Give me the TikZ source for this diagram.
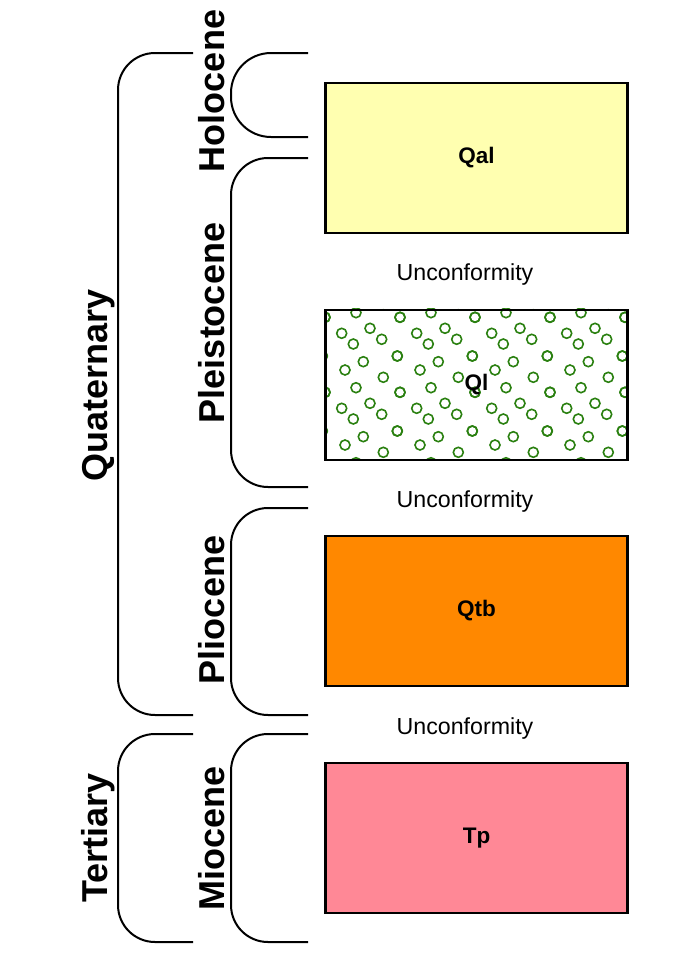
\documentclass[tikz,border=0pt]{standalone}
\usepackage{fontspec}
\setmainfont{Liberation Sans}
\definecolor{qalfill}{HTML}{FFFFB0}
\definecolor{qtbfill}{HTML}{FF8800}
\definecolor{tpfill}{HTML}{FF8896}
\definecolor{dotgreen}{HTML}{2A8010}
\begin{document}
\begin{tikzpicture}[x=1pt,y=-1pt,
  brk/.style={line width=2pt,rounded corners=37pt},
  unit/.style={draw=black,line width=2.2pt,minimum width=302pt,minimum height=150pt,inner sep=0pt,font=\fontsize{22.5}{22.5}\selectfont\bfseries},
  era/.style={rotate=90,anchor=base,inner sep=0pt,font=\fontsize{36}{36}\selectfont\bfseries},
  unc/.style={inner sep=0pt,anchor=base,font=\fontsize{23.2}{23.2}\selectfont},
  ring/.style={draw=dotgreen,line width=1.6pt}]
\useasboundingbox (0,0) rectangle (673,969);
% brackets
\draw[brk] (193,53) -- (118,53) -- (118,715) -- (193,715);
\draw[brk] (193,734) -- (118,734) -- (118,942) -- (193,942);
\draw[brk,rounded corners=40pt] (308,53) -- (231,53) -- (231,137) -- (308,137);
\draw[brk] (308,158) -- (231,158) -- (231,487) -- (308,487);
\draw[brk] (308,508) -- (231,508) -- (231,715) -- (308,715);
\draw[brk] (308,734) -- (231,734) -- (231,942) -- (308,942);
% era labels
\node[era] (quat) at (107,385) {Quaternary};
\node[era] (tert) at (107,838) {Tertiary};
\node[era] (holo) at (224,91) {Holocene};
\node[era] (pleis) at (224,323) {Pleistocene};
\node[era] (plio) at (224,610) {Pliocene};
\node[era] (mio) at (224,838) {Miocene};
% units
\node[unit,fill=qalfill] (qal) at (476.5,158) {Qal};
\begin{scope}
\clip (325.5,308.5) rectangle (627.5,460);
\foreach \tx in {-1,0,1,2,3,4} {
  \foreach \ty in {-1,0,1,2} {
    \begin{scope}[shift={(325+75*\tx,305+75*\ty)}]
      \foreach \px/\py in {31/7.7,0/12.3,75/12.3,16.7/28.3,45/23.3,28.3/39,56.7/34.3,72.3/51,-2.7/51,38.3/56.7,20/65,58.3/72.3}
        \draw[ring] (\px,\py) circle (5pt);
    \end{scope}
  }
}
\end{scope}
\node[unit] (ql) at (476.5,385) {Ql};
\node[unit,fill=qtbfill] (qtb) at (476.5,611) {Qtb};
\node[unit,fill=tpfill] (tp) at (476.5,838) {Tp};
% unconformities
\node[unc] (u1) at (465,280) {Unconformity};
\node[unc] (u2) at (465,507) {Unconformity};
\node[unc] (u3) at (465,734) {Unconformity};
\end{tikzpicture}
\end{document}
